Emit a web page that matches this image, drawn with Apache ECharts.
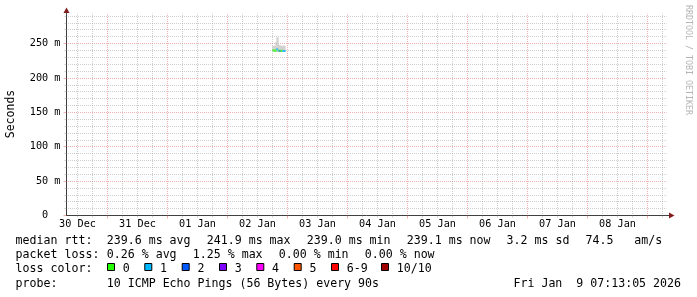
<!DOCTYPE html>
<html><head><meta charset="utf-8">
<script src="https://cdn.jsdelivr.net/npm/echarts@6/dist/echarts.min.js"></script>
<style>html,body{margin:0;padding:0;background:#fff}#c{width:697px;height:297px}</style>
</head><body><div id="c"></div>
<script>
// ---- data (hours since 30 Dec 00:00) ----
const hours = [90.0, 90.4, 90.8, 91.2, 91.6, 92.0, 92.4, 92.8, 93.2, 93.6, 94.0, 94.4, 94.8];
const smokeMax = [247, 246.5, 247, 252, 259, 259, 248, 247, 247, 246.5, 247, 247, 246.5];
const smokeMin = [237.5, 238, 237.5, 237.5, 237.8, 237.5, 237.5, 238, 237.5, 237.5, 237.8, 237.5, 237.8];
const medianRtt = [240.3, 239.9, 239.6, 239.8, 241.9, 240.2, 239.4, 239.2, 239.5, 239.3, 239.0, 239.2, 239.1];
const lossLevel = [0, 0, 0, 0, 1, 1, 0, 2, 0, 0, 1, 1, 1];
const STEP = 0.4;

const dayLabels = ['30 Dec', '31 Dec', '01 Jan', '02 Jan', '03 Jan', '04 Jan', '05 Jan', '06 Jan', '07 Jan', '08 Jan'];
const dayLabelHours = [12, 36, 60, 84, 108, 132, 156, 180, 204, 228];
const majorXHours = [24, 48, 72, 96, 120, 144, 168, 192, 216, 240];
const minorXHours = [12, 18, 30, 36, 42, 54, 60, 66, 78, 84, 90, 102, 108, 114, 126,
  132, 138, 150, 156, 162, 174, 180, 186, 198, 204, 210, 222, 228, 234, 246];
const yMinorTicks = [10, 20, 30, 40, 60, 70, 80, 90, 110, 120, 130, 140, 160, 170, 180, 190,
  210, 220, 230, 240, 260, 270, 280, 290];
const yMajorTicks = [0, 50, 100, 150, 200, 250];

const lossLabels = ['0', '1', '2', '3', '4', '5', '6-9', '10/10'];
const lossColors = ['#26ff00', '#00b8ff', '#0059ff', '#7e00ff', '#ff00ff', '#ff5500', '#ff0000', '#a10000'];

const rowHeads = ['median rtt:', 'packet loss:', 'loss color:', 'probe:'];
const rttStats = ['239.6 ms avg', '241.9 ms max', '239.0 ms min', '239.1 ms now', '3.2 ms sd', '74.5   am/s'];
const lossStats = ['0.26 % avg', '1.25 % max', '0.00 % min', '0.00 % now'];
const probeText = '10 ICMP Echo Pings (56 Bytes) every 90s';
const dateText = 'Fri Jan  9 07:13:05 2026';
const watermark = 'RRDTOOL / TOBI OETIKER';
const yTitle = 'Seconds';

// ---- layout ----
const MONO = "'DejaVu Sans Mono', monospace";
const rttX = [106.8, 206.8, 306.8, 406.8, 506.6, 585.5];
const lossX = [106.8, 192.8, 278.8, 364.8];
const boxX = [107.5, 144.8, 182.2, 219.5, 256.8, 294.2, 331.5, 381.5];
const lineY = [241.3, 255.3, 269.1, 283.6];
const minorGrid = 'rgba(140,140,140,0.42)';
const majorGrid = 'rgba(222,79,79,0.45)';
const dots = {type: [1, 1], dashOffset: 0.5, width: 1};

const chart = echarts.init(document.getElementById('c'), null, {renderer: 'canvas'});

const graphic = [];
rowHeads.forEach((t, i) => graphic.push({type: 'text', x: 15.6, y: lineY[i],
  style: {text: t, font: '11.6px ' + MONO, fill: '#000', align: 'left', verticalAlign: 'middle'}}));
rttStats.forEach((t, i) => graphic.push({type: 'text', x: rttX[i], y: lineY[0],
  style: {text: t, font: '11.6px ' + MONO, fill: '#000', align: 'left', verticalAlign: 'middle'}}));
lossStats.forEach((t, i) => graphic.push({type: 'text', x: lossX[i], y: lineY[1],
  style: {text: t, font: '11.6px ' + MONO, fill: '#000', align: 'left', verticalAlign: 'middle'}}));
lossLabels.forEach((t, i) => {
  graphic.push({type: 'rect', shape: {x: boxX[i], y: 263.5, width: 7, height: 7},
    style: {fill: lossColors[i], stroke: '#000', lineWidth: 1}});
  graphic.push({type: 'text', x: boxX[i] + 15.3, y: lineY[2],
    style: {text: t, font: '11.6px ' + MONO, fill: '#000', align: 'left', verticalAlign: 'middle'}});
});
graphic.push({type: 'text', x: 106.8, y: lineY[3],
  style: {text: probeText, font: '11.6px ' + MONO, fill: '#000', align: 'left', verticalAlign: 'middle'}});
graphic.push({type: 'text', x: 681, y: lineY[3],
  style: {text: dateText, font: '11.6px ' + MONO, fill: '#000', align: 'right', verticalAlign: 'middle'}});
graphic.push({type: 'text', x: 10.8, y: 114, rotation: Math.PI / 2,
  style: {text: yTitle, font: '11.5px ' + MONO, fill: '#000', align: 'center', verticalAlign: 'middle'}});
graphic.push({type: 'text', x: 688, y: 5, rotation: -Math.PI / 2,
  style: {text: watermark, font: '8.3px ' + MONO, fill: '#b4b4b4', align: 'left', verticalAlign: 'middle'}});
// axis arrows
graphic.push({type: 'polygon', shape: {points: [[66.5, 7.5], [63.5, 13], [69.5, 13]]}, style: {fill: 'rgb(128,31,31)'}});
graphic.push({type: 'line', shape: {x1: 666.5, y1: 215.5, x2: 670, y2: 215.5}, style: {stroke: '#404040', lineWidth: 1}});
graphic.push({type: 'polygon', shape: {points: [[674.5, 215.5], [669, 212.5], [669, 218.5]]}, style: {fill: 'rgb(128,31,31)'}});

const option = {
  animation: false,
  backgroundColor: '#ffffff',
  grid: {left: 66.5, right: 30.5, top: 13.5, bottom: 81.5, containLabel: false, outerBoundsMode: 'none'},
  xAxis: [
    {type: 'value', min: 7.6, max: 247.6, position: 'bottom',
      axisLine: {show: true, onZero: false, lineStyle: {color: '#404040', width: 1}},
      axisTick: {show: true, length: 2, customValues: minorXHours, lineStyle: {color: minorGrid}},
      axisLabel: {show: true, customValues: dayLabelHours, margin: 4, color: '#000',
        fontFamily: MONO, fontSize: 10.2,
        formatter: v => dayLabels[dayLabelHours.indexOf(v)] || ''},
      splitLine: {show: true, lineStyle: Object.assign({color: minorGrid}, dots)}},
    {type: 'value', min: 7.6, max: 247.6, position: 'bottom',
      axisLine: {show: false},
      axisTick: {show: true, length: 3, customValues: majorXHours, lineStyle: {color: majorGrid}},
      axisLabel: {show: false},
      splitLine: {show: true, lineStyle: Object.assign({color: majorGrid}, dots)}}
  ],
  yAxis: [
    {type: 'value', min: 0, max: 293.6, position: 'left',
      axisLine: {show: true, onZero: false, lineStyle: {color: '#404040', width: 1}},
      axisTick: {show: true, length: 2, customValues: yMinorTicks, lineStyle: {color: minorGrid}},
      axisLabel: {show: false},
      splitLine: {show: true, lineStyle: Object.assign({color: minorGrid}, dots)}},
    {type: 'value', min: 0, max: 293.6, position: 'left',
      axisLine: {show: false},
      axisTick: {show: true, length: 3, customValues: yMajorTicks, lineStyle: {color: majorGrid}},
      axisLabel: {show: true, customValues: yMajorTicks, margin: 6, color: '#000',
        fontFamily: MONO, fontSize: 10.2,
        formatter: v => (v === 0 ? '0  ' : v + ' m')},
      splitLine: {show: true, lineStyle: Object.assign({color: majorGrid}, dots)}}
  ],
  series: [
    {type: 'custom', xAxisIndex: 0, yAxisIndex: 0, silent: true,
      data: hours.map((h, i) => [h, smokeMin[i], smokeMax[i]]),
      encode: {x: 0, y: [1, 2]},
      renderItem: (params, api) => {
        const top = api.coord([api.value(0), api.value(2)]);
        const bot = api.coord([api.value(0) + STEP, api.value(1)]);
        return {type: 'rect', shape: {x: top[0], y: top[1], width: bot[0] - top[0], height: bot[1] - top[1]},
          style: {fill: '#c4c4c4'}};
      }},
    {type: 'custom', xAxisIndex: 0, yAxisIndex: 0, silent: true,
      data: hours.map((h, i) => [h, medianRtt[i], lossLevel[i]]),
      encode: {x: 0, y: 1},
      renderItem: (params, api) => {
        const a = api.coord([api.value(0), api.value(1)]);
        const b = api.coord([api.value(0) + STEP, api.value(1)]);
        return {type: 'rect', shape: {x: a[0], y: a[1] - 1, width: b[0] - a[0], height: 2},
          style: {fill: lossColors[api.value(2)]}};
      }}
  ],
  graphic: graphic
};
chart.setOption(option);
</script>
</body></html>
